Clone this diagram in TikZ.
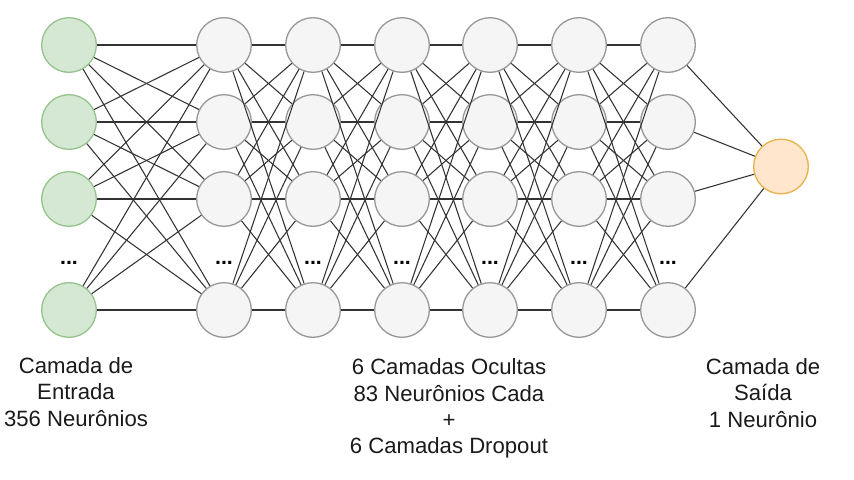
\documentclass[tikz,border=0pt]{standalone}
\usepackage{fontspec}
\setmainfont{Liberation Sans}
\definecolor{inputfill}{HTML}{D5E8D4}
\definecolor{inputedge}{HTML}{97C48E}
\definecolor{hiddenfill}{HTML}{F5F5F5}
\definecolor{hiddenedge}{HTML}{999999}
\definecolor{outputfill}{HTML}{FFE6CC}
\definecolor{outputedge}{HTML}{E6B34D}
\definecolor{textcol}{HTML}{1A1A1A}
\begin{document}
\begin{tikzpicture}[x=0.75pt,y=-0.75pt,
  neuron/.style={circle,minimum size=41pt,inner sep=0pt,line width=1pt},
  inneuron/.style={neuron,draw=inputedge,fill=inputfill},
  hidneuron/.style={neuron,draw=hiddenedge,fill=hiddenfill},
  outneuron/.style={neuron,draw=outputedge,fill=outputfill},
  link/.style={draw=black!80,line width=0.8pt},
  dotstext/.style={font=\fontsize{16}{18}\selectfont\bfseries,inner sep=0pt},
  labeltext/.style={align=center,text=textcol,font=\fontsize{16.6}{19.8}\selectfont}]
  \useasboundingbox (0,0) rectangle (854,479);
  % neurons
  \foreach \y [count=\i] in {45,122,199,310}
    \node[inneuron] (in\i) at (69,\y) {};
  \foreach \x [count=\l] in {224,313,402,490,579,668}
    \foreach \y [count=\i] in {45,122,199,310}
      \node[hidneuron] (h\l-\i) at (\x,\y) {};
  \node[outneuron] (out) at (781,166.5) {};
  % connections
  \foreach \i in {1,...,4}
    \foreach \j in {1,...,4}
      \draw[link] (in\i) -- (h1-\j);
  \foreach \l [evaluate=\l as \m using int(\l+1)] in {1,...,5}
    \foreach \i in {1,...,4}
      \foreach \j in {1,...,4}
        \draw[link] (h\l-\i) -- (h\m-\j);
  \foreach \i in {1,...,4}
    \draw[link] (h6-\i) -- (out);
  % dots
  \node[dotstext] (indots) at (69,263) {...};
  \foreach \x [count=\l] in {224,313,402,490,579,668}
    \node[dotstext] (dots\l) at (\x,263) {...};
  % labels
  \node[labeltext] (inlabel) at (76,392) {Camada de\\Entrada\\356 Neurônios};
  \node[labeltext] (hidlabel) at (449,408.5) {6 Camadas Ocultas\\83 Neurônios Cada\\+\\6 Camadas Dropout};
  \node[labeltext] (outlabel) at (763,393) {Camada de\\Saída\\1 Neurônio};
\end{tikzpicture}
\end{document}
